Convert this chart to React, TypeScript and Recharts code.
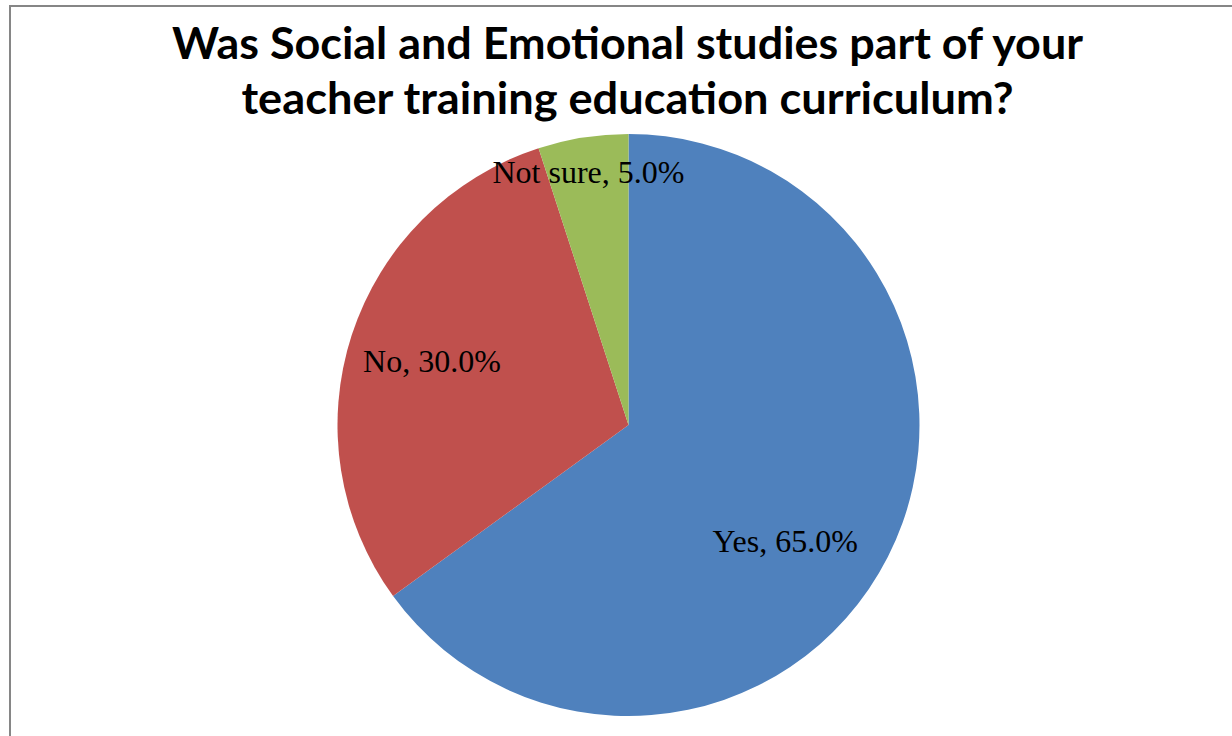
import React from "react";
import { PieChart, Pie, Cell } from "recharts";

const categories = ["Yes", "No", "Not sure"];
const shares = [65.0, 30.0, 5.0];
const colors = ["#4F81BD", "#C0504D", "#9BBB59"];
const titleLines = [
  "Was Social and Emotional studies part of your",
  "teacher training education curriculum?",
];
const titleWidths = [911, 772];

const data = categories.map((name, i) => ({ name, value: shares[i] }));

// label placement (fraction of radius, angle shift in degrees) – mimics Excel "best fit"
const labelLayout: Record<string, { r: number; da: number }> = {
  Yes: { r: 0.67, da: -9.5 },
  No: { r: 0.71, da: 0 },
  "Not sure": { r: 0.88, da: 0 },
};

const RAD = Math.PI / 180;

const renderLabel = (props: any) => {
  const { cx, cy, midAngle, outerRadius, name, value } = props;
  const lay = labelLayout[name] || { r: 0.7, da: 0 };
  const a = (midAngle + lay.da) * RAD;
  const rr = outerRadius * lay.r;
  const x = cx + rr * Math.cos(a);
  const y = cy - rr * Math.sin(a);
  return (
    <text
      x={x}
      y={y}
      textAnchor="middle"
      dominantBaseline="central"
      fontFamily="'Liberation Serif', 'Times New Roman', serif"
      fontSize={32}
      fill="#000"
    >
      {`${name}, ${value.toFixed(1)}%`}
    </text>
  );
};

export default function App() {
  return (
    <div style={{ position: "fixed", left: 0, top: 0, width: 1232, height: 736, background: "#fff", overflow: "hidden" }}>
      <svg width={1232} height={736} style={{ position: "absolute", left: 0, top: 0 }}>
        <rect x={10} y={6} width={1240} height={740} fill="#fff" stroke="#868686" strokeWidth={2} />
        {titleLines.map((t, i) => (
          <text
            key={i}
            x={627.5}
            y={59 + i * 55}
            textAnchor="middle"
            fontFamily="Lato, 'Open Sans', sans-serif"
            fontWeight={700}
            fontSize={43}
            textLength={titleWidths[i]}
            lengthAdjust="spacingAndGlyphs"
            fill="#000"
          >
            {t}
          </text>
        ))}
      </svg>
      <div style={{ position: "absolute", left: 0, top: 0 }}>
        <PieChart width={1232} height={736} margin={{ top: 0, right: 0, bottom: 0, left: 0 }}>
          <Pie
            data={data}
            dataKey="value"
            nameKey="name"
            cx={628.5}
            cy={425}
            outerRadius={291}
            startAngle={90}
            endAngle={-270}
            stroke="none"
            isAnimationActive={false}
            labelLine={false}
            label={renderLabel}
          >
            {data.map((d, i) => (
              <Cell key={d.name} fill={colors[i]} />
            ))}
          </Pie>
        </PieChart>
      </div>
    </div>
  );
}
